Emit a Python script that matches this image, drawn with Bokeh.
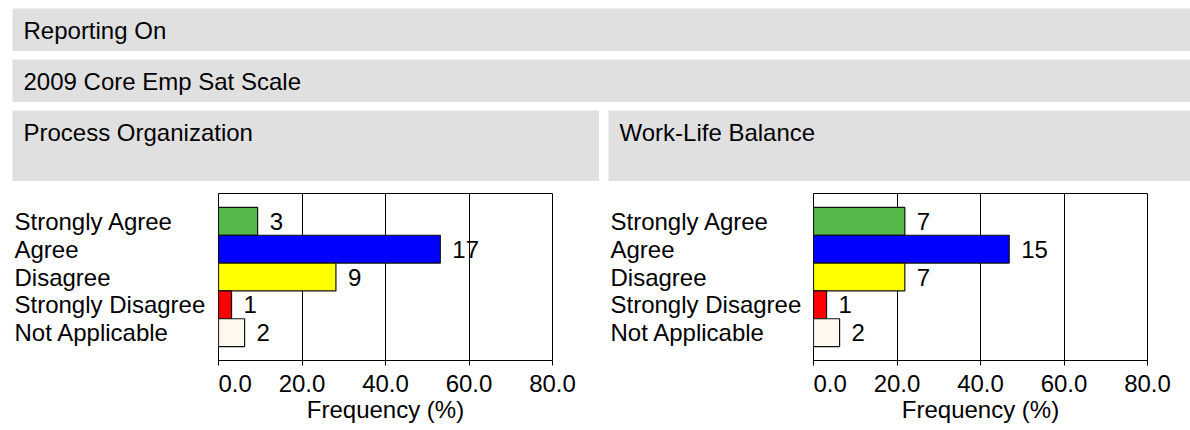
from bokeh.plotting import figure
from bokeh.layouts import column, row
from bokeh.models import Range1d, FactorRange, FixedTicker, PrintfTickFormatter, Label, ColumnDataSource
from bokeh.embed import file_html
from bokeh.resources import INLINE
from bokeh.core.properties import value

# ---- data ----
categories = ["Strongly Agree", "Agree", "Disagree", "Strongly Disagree", "Not Applicable"]
process_org_counts = [3, 17, 9, 1, 2]
work_life_counts = [7, 15, 7, 1, 2]
bar_colors = ["#55b848", "#0000ff", "#ffff00", "#ff0000", "#fff9f0"]
x_ticks = [0, 20, 40, 60, 80]
report_title = "Reporting On"
scale_title = "2009 Core Emp Sat Scale"
panel_titles = ["Process Organization", "Work-Life Balance"]
x_label = "Frequency (%)"

FONT = "Liberation Sans"
FS = "24px"
GRAY = "#e0e0e0"
PLOT_H = 249
TOP_B = 12
BOT_B = 70
FRAME_W = 334


def header(text, w, h, baseline_from_top=22):
    p = figure(width=w, height=h, x_range=Range1d(0, w), y_range=Range1d(0, h),
               toolbar_location=None, output_backend="svg", title=None,
               x_axis_location=None, y_axis_location=None, min_border=0)
    p.grid.visible = False
    p.outline_line_color = None
    p.background_fill_color = GRAY
    p.border_fill_color = GRAY
    p.add_layout(Label(x=11, y=h - baseline_from_top, text=text, text_font=FONT,
                       text_font_size=FS, text_color="black", text_baseline="alphabetic"))
    return p


def style_xaxis(p, visible=True):
    ax = p.xaxis[0]
    col = "black" if visible else None
    ax.ticker = FixedTicker(ticks=x_ticks)
    ax.formatter = PrintfTickFormatter(format="%.1f")
    ax.axis_line_color = col
    ax.major_tick_line_color = col
    ax.major_tick_out = 5
    ax.major_tick_in = 0
    ax.minor_tick_line_color = None
    ax.major_label_text_font = FONT
    ax.major_label_text_font_size = FS
    ax.major_label_text_color = col
    ax.major_label_standoff = 9
    ax.axis_label = x_label
    ax.axis_label_text_font = FONT
    ax.axis_label_text_font_size = FS
    ax.axis_label_text_font_style = "normal"
    ax.axis_label_text_color = col
    ax.axis_label_standoff = 1


def label_fig(w, yr):
    p = figure(width=w, height=PLOT_H, x_range=Range1d(x_ticks[0], x_ticks[-1]), y_range=yr,
               toolbar_location=None, output_backend="svg", title=None, y_axis_location=None,
               min_border_left=0, min_border_right=0, min_border_top=TOP_B, min_border_bottom=BOT_B)
    p.grid.visible = False
    p.outline_line_color = None
    style_xaxis(p, visible=False)
    src = ColumnDataSource(dict(cat=categories))
    p.text(x=x_ticks[0], y="cat", text="cat", x_offset=2, text_align="left", text_baseline="middle",
           text_font=value(FONT), text_font_size=FS, text_color="black", source=src)
    return p


def bar_fig(counts, w, yr):
    n = sum(counts)
    pct = [100.0 * c / n for c in counts]
    src = ColumnDataSource(dict(cat=categories, pct=pct, cnt=[str(c) for c in counts], color=bar_colors))
    p = figure(width=w, height=PLOT_H, x_range=Range1d(x_ticks[0], x_ticks[-1]), y_range=yr,
               toolbar_location=None, output_backend="svg", title=None, y_axis_location=None,
               min_border_left=0, min_border_right=w - FRAME_W, min_border_top=TOP_B, min_border_bottom=BOT_B)
    p.hbar(y="cat", left=0, right="pct", height=1.0, fill_color="color", line_color="#111111",
           line_width=1.2, source=src)
    p.text(x="pct", y="cat", text="cnt", x_offset=12, text_align="left", text_baseline="middle",
           text_font=value(FONT), text_font_size=FS, text_color="black", source=src)
    p.outline_line_color = "black"
    p.outline_line_width = 1
    p.ygrid.visible = False
    p.xgrid.grid_line_color = "black"
    p.xgrid.grid_line_width = 1
    p.xgrid.grid_line_alpha = 1
    style_xaxis(p, visible=True)
    return p


panels = []
for title, counts, pw, lw in [(panel_titles[0], process_org_counts, 587, 206),
                              (panel_titles[1], work_life_counts, 582, 205)]:
    yr = FactorRange(factors=categories[::-1], range_padding=0.2)
    h = header(title, pw, 71)
    r = row(label_fig(lw, yr), bar_fig(counts, pw - lw, yr), spacing=0)
    panels.append(column(h, r, spacing=0))

layout = column(header(report_title, 1178, 43), header(scale_title, 1178, 43),
                row(panels[0], panels[1], spacing=9), spacing=8, margin=(8, 0, 0, 12))

open("out.html", "w").write(file_html(layout, INLINE))
